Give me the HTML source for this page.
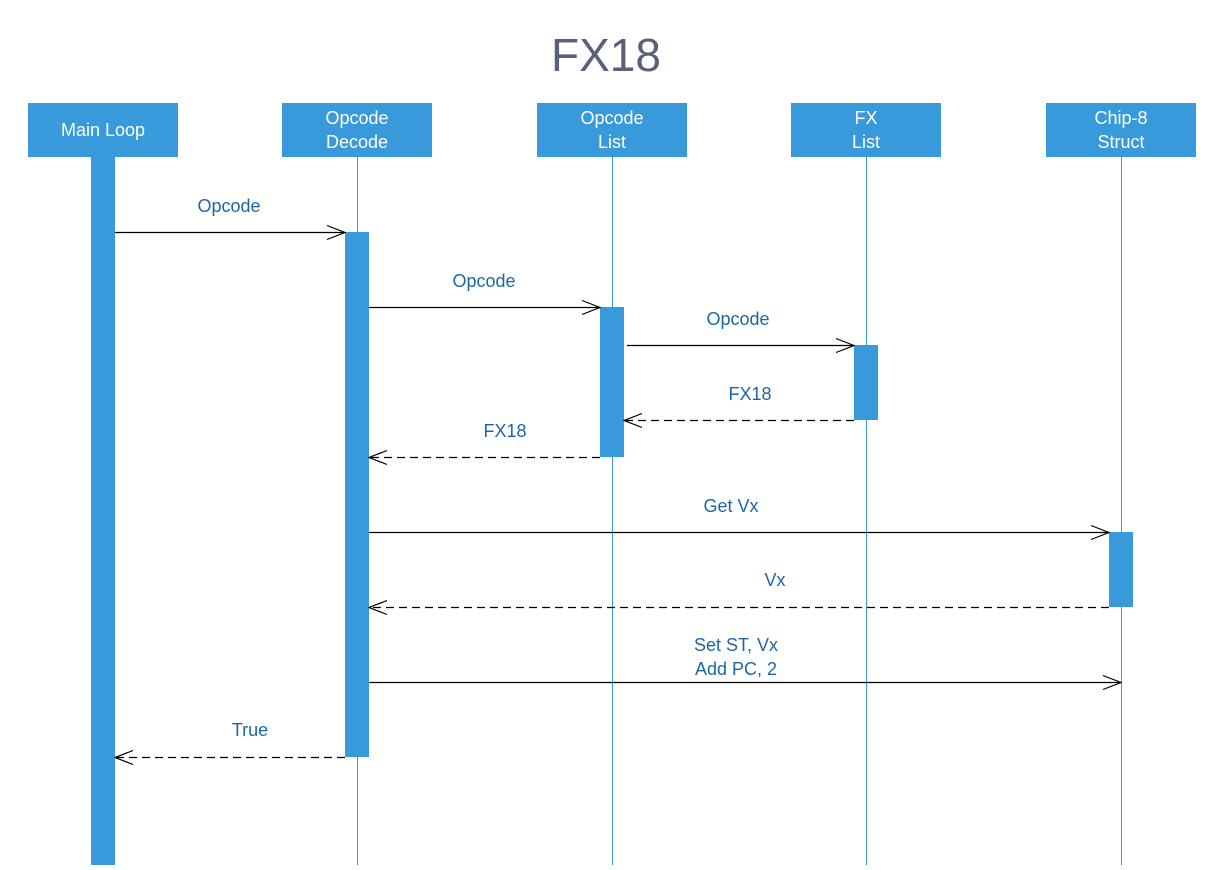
<!DOCTYPE html>
<html><head><meta charset="utf-8"><style>
body{margin:0;background:#fff;width:1225px;height:865px;overflow:hidden;font-family:"Liberation Sans",Arial,sans-serif}
</style></head><body>
<svg width="1225" height="865" xmlns="http://www.w3.org/2000/svg" font-family="Liberation Sans, Arial, sans-serif">
<defs>
<marker id="a" markerWidth="20" markerHeight="16" refX="19" refY="8" orient="auto" markerUnits="userSpaceOnUse">
<path d="M1,1 L19,8 L1,15" fill="none" stroke="#000" stroke-width="1.2"/></marker>
</defs>
<text x="606" y="71" text-anchor="middle" font-size="46" fill="#5b6079">FX18</text>
<g fill="#3899db">
<rect x="28" y="103" width="150" height="54"/>
<rect x="282" y="103" width="150" height="54"/>
<rect x="537" y="103" width="150" height="54"/>
<rect x="791" y="103" width="150" height="54"/>
<rect x="1046" y="103" width="150" height="54"/>
</g>
<g stroke="#3899db" stroke-width="1">
<line x1="357.5" y1="157" x2="357.5" y2="865"/>
<line x1="612.5" y1="157" x2="612.5" y2="865"/>
<line x1="866.5" y1="157" x2="866.5" y2="865"/>
<line x1="1121.5" y1="157" x2="1121.5" y2="865"/>
</g>
<g fill="#3899db">
<rect x="91" y="157" width="24" height="708"/>
<rect x="345" y="232" width="24" height="525"/>
<rect x="600" y="307" width="24" height="150"/>
<rect x="854" y="345" width="24" height="75"/>
<rect x="1109" y="532" width="24" height="75"/>
</g>
<g fill="#fff" font-size="18" text-anchor="middle">
<text x="103" y="136">Main Loop</text>
<text x="357" y="124">Opcode</text><text x="357" y="148">Decode</text>
<text x="612" y="124">Opcode</text><text x="612" y="148">List</text>
<text x="866" y="124">FX</text><text x="866" y="148">List</text>
<text x="1121" y="124">Chip-8</text><text x="1121" y="148">Struct</text>
</g>
<g stroke="#000" stroke-width="1.3" fill="none" marker-end="url(#a)">
<line x1="115" y1="232.5" x2="345" y2="232.5"/>
<line x1="369" y1="307.5" x2="600" y2="307.5"/>
<line x1="627" y1="345.5" x2="854" y2="345.5"/>
<line x1="854" y1="420.5" x2="624" y2="420.5" stroke-dasharray="8,5"/>
<line x1="600" y1="457.5" x2="369" y2="457.5" stroke-dasharray="8,5"/>
<line x1="369" y1="532.5" x2="1109" y2="532.5"/>
<line x1="1109" y1="607.5" x2="369" y2="607.5" stroke-dasharray="8,5"/>
<line x1="369" y1="682.5" x2="1121" y2="682.5"/>
<line x1="345" y1="757.5" x2="115" y2="757.5" stroke-dasharray="8,5"/>
</g>
<g fill="#1f66a5" font-size="18" text-anchor="middle">
<text x="229" y="212">Opcode</text>
<text x="484" y="287">Opcode</text>
<text x="738" y="325">Opcode</text>
<text x="750" y="400">FX18</text>
<text x="505" y="437">FX18</text>
<text x="731" y="512">Get Vx</text>
<text x="775" y="586">Vx</text>
<text x="736" y="651">Set ST, Vx</text>
<text x="736" y="675">Add PC, 2</text>
<text x="250" y="736">True</text>
</g>
</svg>
</body></html>
